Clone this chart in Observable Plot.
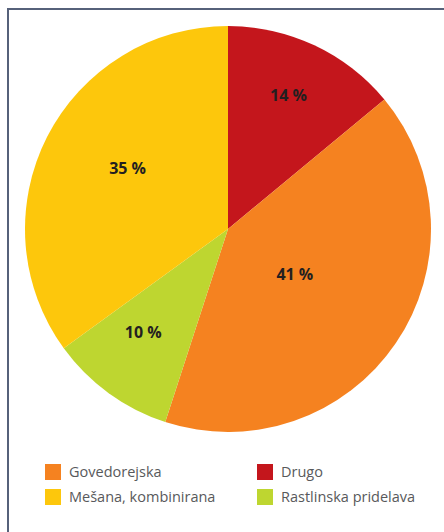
<!DOCTYPE html>
<html>
<head>
<meta charset="utf-8">
<script src="https://cdn.jsdelivr.net/npm/d3@7"></script>
<script src="https://cdn.jsdelivr.net/npm/@observablehq/plot@0.6"></script>
<style>
  body { margin: 0; background: #fff; font-family: "Open Sans", sans-serif; }
  #frame { position: absolute; left: 7px; top: 8px; width: 460px; height: 540px;
           border-top: 2px solid #56617a; border-left: 2px solid #56617a; box-sizing: border-box; }
  #chart { position: absolute; left: 0; top: 0; }
  #legend { position: absolute; left: 45px; top: 464px; display: grid;
            grid-template-columns: 212px auto; row-gap: 9px; }
  .item { display: flex; align-items: center; font-size: 14.5px; color: #58595b; height: 16px; line-height: 16px; }
  .sw { width: 16px; height: 16px; margin-right: 8px; flex: none; }
</style>
</head>
<body>
<div id="frame"></div>
<div id="chart"></div>
<div id="legend"></div>
<script>
// Farm types, clockwise from 12 o'clock
const categories = ["Drugo", "Govedorejska", "Rastlinska pridelava", "Mešana, kombinirana"];
const shares = [14, 41, 10, 35];
const colors = ["#c4161c", "#f58220", "#bed630", "#fdc70c"];
const legendOrder = ["Govedorejska", "Drugo", "Mešana, kombinirana", "Rastlinska pridelava"];

// label distance from the centre (fraction of the radius) and angular nudge (degrees)
const labelRadius = [0.72, 0.395, 0.66, 0.58];
const labelTurn = [-1, 0, 3.5, 4];

const W = 444, H = 450;
const cx = 228, cy = 229, R = 203;

const color = Plot.scale({color: {domain: categories, range: colors}});
const data = categories.map((c, i) => ({category: c, share: shares[i]}));
const arcs = d3.pie().sort(null).value(d => d.share)(data);
const arcGen = d3.arc().innerRadius(0).outerRadius(R);

const labels = arcs.map((a, i) => {
  const k = labelRadius[i] * R;
  const m = (a.startAngle + a.endAngle) / 2 + labelTurn[i] * Math.PI / 180;
  return {x: cx + k * Math.sin(m), y: cy - k * Math.cos(m), text: `${a.data.share} %`};
});

const pieMark = () => {
  const g = d3.create("svg:g").attr("transform", `translate(${cx},${cy})`);
  g.selectAll("path").data(arcs).join("path")
    .attr("d", arcGen)
    .attr("fill", d => color.apply(d.data.category));
  return g.node();
};

const chart = Plot.plot({
  width: W, height: H, margin: 0,
  x: {type: "identity", axis: null}, y: {type: "identity", axis: null},
  style: {background: "transparent"},
  marks: [
    pieMark,
    Plot.text(labels, {x: "x", y: "y", text: "text", fontSize: 16, fontWeight: "bold",
      fill: "#231f20", fontFamily: "Open Sans, sans-serif"})
  ]
});
document.getElementById("chart").append(chart);

const legend = d3.select("#legend");
legendOrder.forEach(c => {
  const it = legend.append("div").attr("class", "item");
  it.append("div").attr("class", "sw").style("background", color.apply(c));
  it.append("span").text(c);
});
</script>
</body>
</html>
